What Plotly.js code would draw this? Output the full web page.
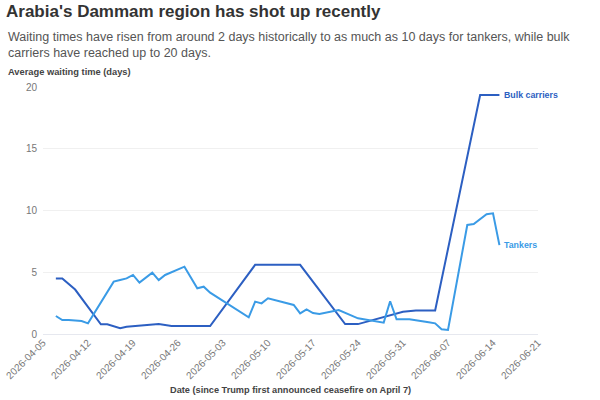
<!DOCTYPE html>
<html>
<head>
<meta charset="utf-8">
<script src="https://cdn.plot.ly/plotly-3.0.1.min.js"></script>
<style>html,body{margin:0;padding:0;background:#fff;}#chart{width:600px;height:400px;}</style>
</head>
<body>
<div id="chart"></div>
<script>
// Bulk carriers: average waiting time (days)
const bulkDates = ['2026-04-07','2026-04-08','2026-04-10','2026-04-14','2026-04-15','2026-04-17','2026-04-18','2026-04-22','2026-04-23','2026-04-25','2026-05-01','2026-05-08','2026-05-15','2026-05-22','2026-05-24','2026-05-31','2026-06-02','2026-06-05','2026-06-12','2026-06-15'];
const bulkValues = [4.5,4.5,3.6,0.78,0.78,0.46,0.58,0.8,0.8,0.65,0.65,5.6,5.6,0.8,0.8,1.8,1.9,1.9,19.35,19.35];

// Tankers: average waiting time (days)
const tankerDates = ['2026-04-07','2026-04-08','2026-04-09','2026-04-10','2026-04-11','2026-04-12','2026-04-16','2026-04-17','2026-04-18','2026-04-19','2026-04-20','2026-04-22','2026-04-23','2026-04-24','2026-04-27','2026-04-29','2026-04-30','2026-05-01','2026-05-07','2026-05-08','2026-05-09','2026-05-10','2026-05-14','2026-05-15','2026-05-16','2026-05-17','2026-05-18','2026-05-21','2026-05-24','2026-05-28','2026-05-29','2026-05-30','2026-06-01','2026-06-04','2026-06-05','2026-06-06','2026-06-07','2026-06-10','2026-06-11','2026-06-13','2026-06-14','2026-06-15'];
const tankerValues = [1.46,1.13,1.13,1.08,1.05,0.86,4.24,4.37,4.5,4.78,4.16,4.97,4.37,4.78,5.45,3.7,3.83,3.35,1.35,2.62,2.48,2.89,2.35,1.67,2.0,1.7,1.62,1.94,1.27,0.92,2.65,1.19,1.19,0.95,0.86,0.38,0.33,8.83,8.9,9.7,9.77,7.2];

const seriesNames = ['Bulk carriers','Tankers'];
const yTicks = [0,5,10,15,20];

const titleText = "Arabia's Dammam region has shot up recently";
const subtitleText = "Waiting times have risen from around 2 days historically to as much as 10 days for tankers, while bulk<br>carriers have reached up to 20 days.";
const yLabelText = "Average waiting time (days)";
const xLabelText = "Date (since Trump first announced ceasefire on April 7)";

const FONT = "'Liberation Sans', Arial, sans-serif";
const BULK = '#2c5fc2';
const TANK = '#3a9be6';

const W = 600, H = 400, ML = 43, MR = 62, MT = 87, MB = 66;
const PW = W - ML - MR, PH = H - MT - MB;
const px = x => (x - ML) / PW;
const py = y => (H - MB - y) / PH;

const traces = [
  {x: bulkDates, y: bulkValues, name: seriesNames[0], type: 'scatter', mode: 'lines',
   line: {color: BULK, width: 2}, hoverinfo: 'skip'},
  {x: tankerDates, y: tankerValues, name: seriesNames[1], type: 'scatter', mode: 'lines',
   line: {color: TANK, width: 2}, hoverinfo: 'skip'}
];

const layout = {
  width: W, height: H,
  margin: {l: ML, r: MR, t: MT, b: MB, pad: 0},
  paper_bgcolor: '#fff', plot_bgcolor: '#fff',
  showlegend: false,
  font: {family: FONT, color: '#666'},
  title: {text: '<b>' + titleText + '</b>', x: 6 / W, xanchor: 'left', xref: 'container',
          y: 1 - 11 / H, yanchor: 'middle', yref: 'container',
          font: {family: FONT, size: 17, color: '#333'}},
  xaxis: {type: 'date', range: ['2026-04-05', '2026-06-21'], tick0: '2026-04-05', dtick: 7 * 86400000,
          tickformat: '%Y-%m-%d', tickangle: -45, tickfont: {size: 10, color: '#777', family: FONT},
          showgrid: false, zeroline: false, showline: false, ticks: '', automargin: false},
  yaxis: {range: [0, 20], tickvals: yTicks, tickfont: {size: 10, color: '#777', family: FONT},
          ticklabelstandoff: 5,
          showgrid: true, gridcolor: '#f0f0f0', gridwidth: 1, zeroline: true, zerolinecolor: '#e6e8ef',
          zerolinewidth: 1, showline: false, ticks: '', automargin: false},
  annotations: [
    {text: subtitleText, xref: 'paper', yref: 'paper', x: px(6), y: py(28), xanchor: 'left', yanchor: 'top',
     align: 'left', showarrow: false, font: {family: FONT, size: 12.5, color: '#555'}},
    {text: '<b>' + yLabelText + '</b>', xref: 'paper', yref: 'paper', x: px(6), y: py(72), xanchor: 'left',
     yanchor: 'middle', showarrow: false, font: {family: FONT, size: 9.3, color: '#444'}},
    {text: '<b>' + xLabelText + '</b>', xref: 'paper', yref: 'paper', x: 0.5, y: py(390), xanchor: 'center',
     yanchor: 'middle', showarrow: false, font: {family: FONT, size: 9.2, color: '#444'}},
    {text: '<b>' + seriesNames[0] + '</b>', x: bulkDates[bulkDates.length - 1], y: bulkValues[bulkValues.length - 1],
     xanchor: 'left', yanchor: 'middle', xshift: 3, showarrow: false, font: {family: FONT, size: 8.8, color: BULK}},
    {text: '<b>' + seriesNames[1] + '</b>', x: tankerDates[tankerDates.length - 1], y: tankerValues[tankerValues.length - 1],
     xanchor: 'left', yanchor: 'middle', xshift: 3, showarrow: false, font: {family: FONT, size: 8.8, color: TANK}}
  ]
};

Plotly.newPlot('chart', traces, layout, {displayModeBar: false, staticPlot: true});
</script>
</body>
</html>
